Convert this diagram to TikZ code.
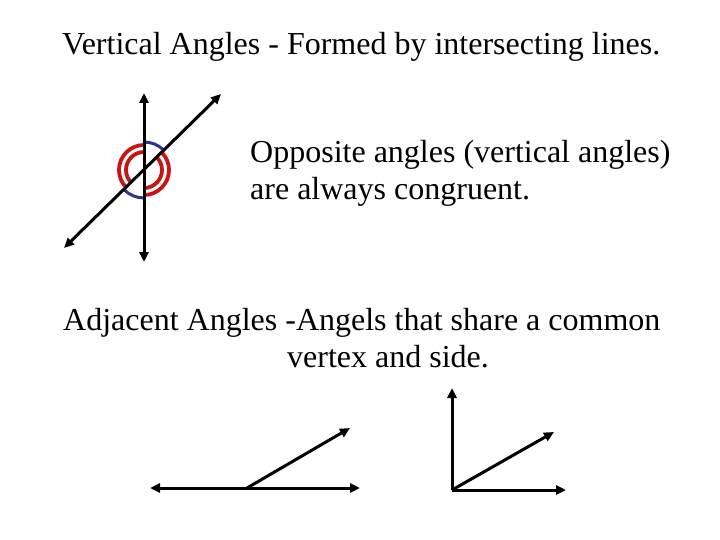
\documentclass[tikz,border=0pt]{standalone}
\usepackage{fontspec}
\setmainfont{Liberation Serif}
\usetikzlibrary{arrows.meta}
\definecolor{arcred}{RGB}{200,20,20}
\definecolor{arcblue}{RGB}{50,50,140}
\tikzset{
  line/.style={line width=3pt, {Triangle[length=10pt,width=9pt]}-{Triangle[length=10pt,width=9pt]}},
  ray/.style={line width=3pt, -{Triangle[length=10pt,width=9pt]}},
  txt/.style={anchor=base west, inner sep=0pt, font=\fontsize{32}{37}\selectfont},
  redarc/.style={arcred, line width=3.8pt},
  bluearc/.style={arcblue, line width=3pt}
}
\begin{document}
\begin{tikzpicture}[x=1pt,y=-1pt]
\useasboundingbox (0,0) rectangle (720,540);
% texts
\node[txt] (title) at (62,55) {Vertical Angles - Formed by intersecting lines.};
\node[txt] (opp1) at (250,163) {Opposite angles (vertical angles)};
\node[txt] (opp2) at (250,200) {are always congruent.};
\node[txt] (adj1) at (63,330) {Adjacent Angles -Angels that share a common};
\node[txt] (adj2) at (287,367) {vertex and side.};
% vertical angles
\coordinate (O) at (144,170);
\coordinate (vtop) at (144,93);
\coordinate (vbot) at (144,262);
\coordinate (dll) at (64,248);
\coordinate (dur) at (221,94);
% arcs (coordinate angle = minus screen angle, since y points down)
\draw[bluearc] ([shift={(-45:28)}]O) arc[start angle=-45, end angle=-90, radius=28];
\draw[bluearc] ([shift={(135:28)}]O) arc[start angle=135, end angle=90, radius=28];
\draw[redarc] ([shift={(-90:25)}]O) arc[start angle=-90, end angle=-225, radius=25];
\draw[redarc] ([shift={(-90:18)}]O) arc[start angle=-90, end angle=-225, radius=18];
\draw[redarc] ([shift={(90:25)}]O) arc[start angle=90, end angle=-45, radius=25];
\draw[redarc] ([shift={(90:18)}]O) arc[start angle=90, end angle=-45, radius=18];
\draw[line] (vtop) -- (vbot);
\draw[line] (dll) -- (dur);
% adjacent angles left
\coordinate (hl) at (150,488);
\coordinate (hr) at (360,488);
\coordinate (v1) at (247,488);
\coordinate (r1) at (350,428);
\draw[line] (hl) -- (hr);
\draw[ray] (v1) -- (r1);
% adjacent angles right
\coordinate (v2) at (452,490);
\coordinate (up2) at (452,388);
\coordinate (h2) at (566,490);
\coordinate (r2) at (554,432);
\draw[ray] (v2) -- (up2);
\draw[ray] (v2) -- (h2);
\draw[ray] (v2) -- (r2);
\end{tikzpicture}
\end{document}
